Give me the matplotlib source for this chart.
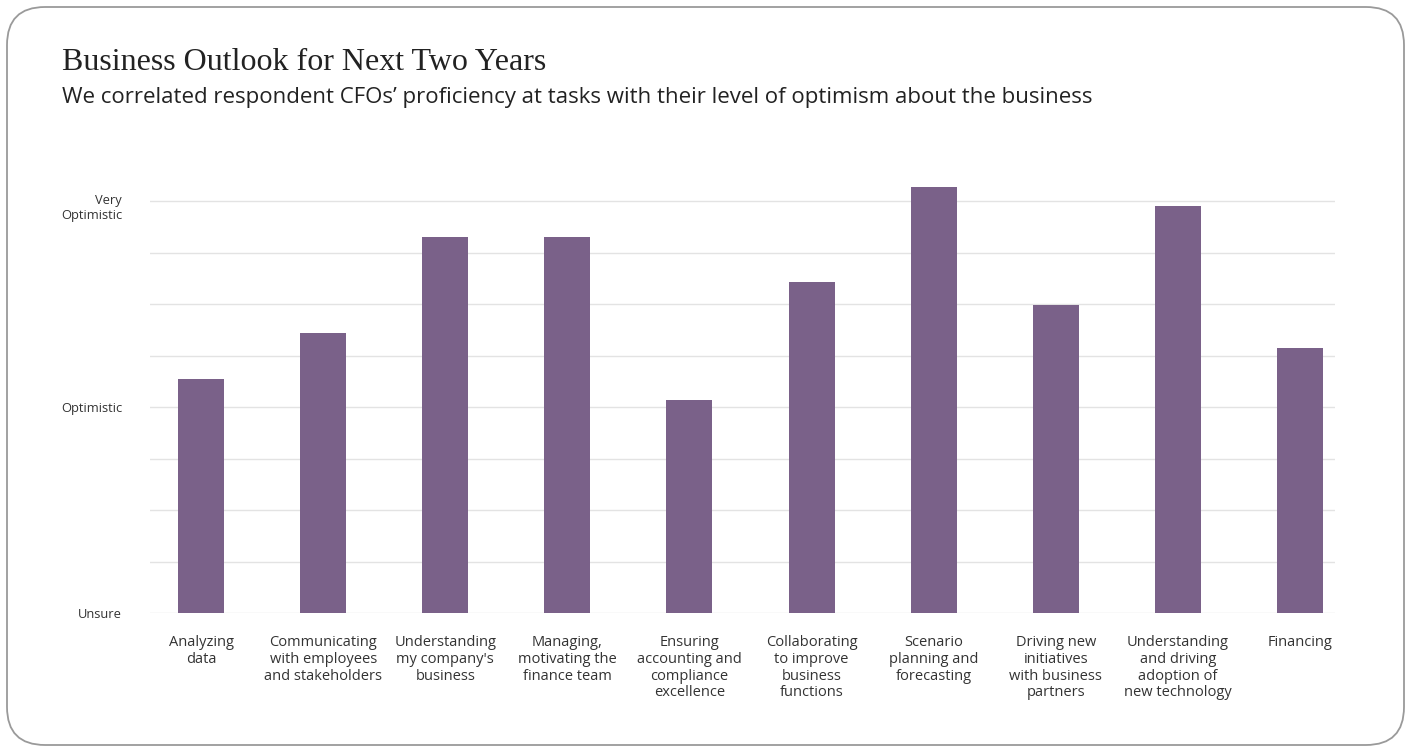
import matplotlib
matplotlib.use("Agg")
import matplotlib.pyplot as plt
from matplotlib.patches import FancyBboxPatch

# tasks and average outlook (0 = Unsure, 1 = Optimistic, 2 = Very Optimistic)
categories = [
    "Analyzing\ndata",
    "Communicating\nwith employees\nand stakeholders",
    "Understanding\nmy company's\nbusiness",
    "Managing,\nmotivating the\nfinance team",
    "Ensuring\naccounting and\ncompliance\nexcellence",
    "Collaborating\nto improve\nbusiness\nfunctions",
    "Scenario\nplanning and\nforecasting",
    "Driving new\ninitiatives\nwith business\npartners",
    "Understanding\nand driving\nadoption of\nnew technology",
    "Financing",
]
outlook = [1.136, 1.359, 1.825, 1.825, 1.034, 1.607, 2.068, 1.495, 1.976, 1.286]
ytick_vals = [0, 1, 2]
ytick_labels = ["Unsure", "Optimistic", "Very\nOptimistic"]

plt.rcParams["font.family"] = ["Open Sans", "DejaVu Sans"]

fig = plt.figure(figsize=(14.10, 7.46), dpi=100)

# background axes in pixel units for the rounded card
bg = fig.add_axes([0, 0, 1, 1], zorder=-1)
bg.set_xlim(0, 1410)
bg.set_ylim(0, 746)
bg.axis("off")
bg.add_patch(FancyBboxPatch((7, 1), 1397, 738,
                            boxstyle="round,pad=0,rounding_size=38",
                            facecolor="white", edgecolor="#9a9a9a", linewidth=1.3))

fig.text(62 / 1410, 1 - 63 / 746, "Business Outlook for Next Two Years",
         fontsize=23, family=["Liberation Serif", "DejaVu Serif"], color="#222222", va="center")
fig.text(62 / 1410, 1 - 98 / 746,
         "We correlated respondent CFOs\u2019 proficiency at tasks with their level of optimism about the business",
         fontsize=16, color="#222222", va="center")

ax = fig.add_axes([150 / 1410, 1 - 613 / 746, 1185 / 1410, 440 / 746])
ax.patch.set_alpha(0)
x = range(len(categories))
ax.bar(x, outlook, width=0.377, color="#7a6189", zorder=3)

ax.set_xlim(-0.418, 9.287)
ax.set_ylim(0, 2.136)
ax.set_yticks(ytick_vals)
# the two-line top label is placed separately so its first line sits on the gridline
ax.set_yticklabels(ytick_labels[:2] + [""], fontsize=9.3, color="#333333", ha="right")
ax.annotate(ytick_labels[2], xy=(0, ytick_vals[2]), xycoords=ax.get_yaxis_transform(),
            xytext=(-20, 5), textcoords="offset points", ha="right", va="top",
            fontsize=9.3, color="#333333", linespacing=1.2)
ax.set_xticks(list(x))
ax.set_xticklabels(categories, fontsize=10.5, color="#333333", linespacing=1.15, va="top")

for y in [i * 0.25 for i in range(9)]:
    ax.axhline(y, color="#e3e3e3", linewidth=1, zorder=1)

ax.tick_params(axis="both", which="both", length=0)
ax.tick_params(axis="x", pad=16)
ax.tick_params(axis="y", pad=20)
for s in ax.spines.values():
    s.set_visible(False)

fig.savefig("out.png", dpi=100)
